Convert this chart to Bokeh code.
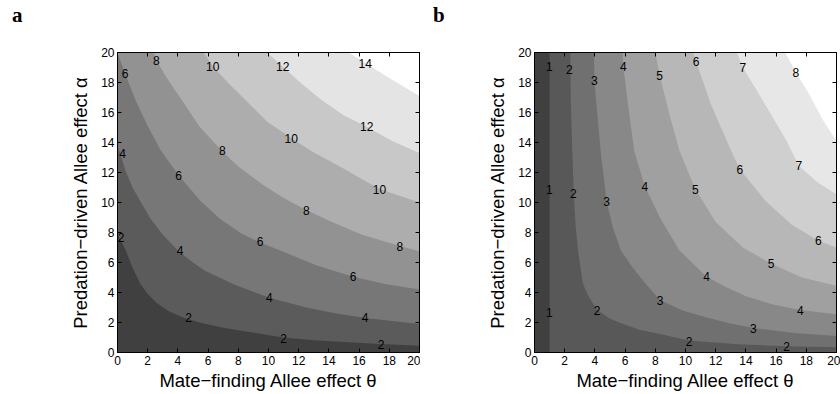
from bokeh.plotting import figure
from bokeh.models import LinearAxis, FixedTicker, Range1d, Div
from bokeh.layouts import row, column
from bokeh.embed import file_html
from bokeh.resources import INLINE
from bokeh.core.properties import value

# ---------------- data ----------------
theta_ticks = [0, 2, 4, 6, 8, 10, 12, 14, 16, 18, 20]
alpha_ticks = [0, 2, 4, 6, 8, 10, 12, 14, 16, 18, 20]

x_label = "Mate\u2212finding Allee effect \u03b8"
y_label = "Predation\u2212driven Allee effect \u03b1"

# panel a: contour lines (theta, alpha)
a_levels = [2, 4, 6, 8, 10, 12, 14]
a_c2 = [(0, 7.9), (0.3, 7.3), (0.55, 6.8), (1.0, 5.65), (1.5, 4.6), (2.0, 3.9), (2.6, 3.3),
        (3.4, 2.75), (4.3, 2.35), (5.5, 1.98), (7.0, 1.65), (8.5, 1.4), (11.0, 1.0),
        (13.0, 0.82), (15.3, 0.68), (17.4, 0.56), (20, 0.45)]
a_c4 = [(0, 13.8), (0.2, 13.2), (0.5, 12.2), (1.0, 11.0), (1.5, 10.1), (2.2, 8.9), (3.0, 7.85),
        (4.0, 6.8), (5.0, 6.0), (5.8, 5.45), (7.8, 4.5), (10.0, 3.67), (12.5, 3.0),
        (14.5, 2.6), (16.4, 2.3), (20, 1.9)]
a_c6 = [(0, 20), (0.5, 18.6), (1.2, 16.8), (2.0, 15.1), (2.85, 13.5), (4.06, 11.8), (5.5, 10.1),
        (6.8, 8.9), (8.26, 7.9), (9.4, 7.35), (10.9, 6.75), (13.2, 5.8), (15.6, 5.05),
        (17.8, 4.55), (20, 4.2)]
a_c8 = [(2.4, 20), (2.57, 19.5), (3.2, 18.4), (4.28, 16.8), (5.4, 15.1), (6.9, 13.45),
        (8.0, 12.4), (9.6, 11.2), (11.0, 10.3), (12.5, 9.5), (14.2, 8.7), (16.2, 7.85),
        (18.7, 7.1), (20, 6.75)]
a_c10 = [(5.7, 20), (6.3, 19.1), (7.3, 18.0), (8.5, 16.8), (9.9, 15.4), (11.5, 14.3),
         (12.8, 13.45), (14.9, 12.3), (17.35, 10.9), (20, 10.0)]
a_c12 = [(9.9, 20), (10.9, 19.1), (12.1, 18.0), (13.55, 16.8), (15.0, 15.8), (16.5, 15.05),
         (18.2, 14.1), (20, 13.3)]
a_c14 = [(15.3, 20), (16.4, 19.3), (17.75, 18.45), (19.0, 17.7), (20, 17.1)]
a_contours = [a_c2, a_c4, a_c6, a_c8, a_c10, a_c12, a_c14]

a_lab_theta = [0.23, 0.34, 0.5, 2.57, 6.3, 10.94, 16.4, 16.5, 11.5, 6.94, 4.05, 17.35, 12.5,
               9.44, 4.14, 18.7, 15.6, 10.05, 4.7, 16.4, 11.0, 17.45]
a_lab_alpha = [7.7, 13.3, 18.6, 19.5, 19.1, 19.1, 19.3, 15.05, 14.3, 13.5, 11.8, 10.9, 9.5,
               7.4, 6.78, 7.1, 5.05, 3.67, 2.33, 2.33, 0.96, 0.56]
a_lab_text = ["2", "4", "6", "8", "10", "12", "14", "12", "10", "8", "6", "10", "8",
              "6", "4", "8", "6", "4", "2", "4", "2", "2"]

# panel b
b_levels = [1, 2, 3, 4, 5, 6, 7, 8]
b_c1 = [(1, 20), (1, 0)]
b_c2 = [(2.37, 20), (2.4, 17), (2.5, 13.5), (2.6, 10.6), (2.72, 8.5), (2.88, 6.8), (3.2, 4.6),
        (3.5, 3.9), (3.76, 3.45), (4.14, 2.85), (5.0, 2.25), (5.86, 1.9), (7.0, 1.5),
        (8.3, 1.23), (10.2, 0.8), (13.5, 0.55), (16.7, 0.42), (20, 0.35)]
b_c3 = [(3.95, 20), (3.96, 18.2), (4.15, 16), (4.38, 13.45), (4.78, 10.05), (5.2, 8.3),
        (5.73, 6.78), (6.5, 5.67), (7.3, 4.65), (8.31, 3.5), (9.8, 2.8), (11.4, 2.33),
        (12.9, 1.95), (14.5, 1.63), (17.2, 1.3), (20, 1.1)]
b_c4 = [(5.83, 20), (5.88, 19.1), (6.2, 16.5), (6.6, 13.45), (7.3, 11.1), (8.3, 9.0),
        (9.6, 6.8), (11.4, 5.05), (12.6, 4.4), (14.0, 3.75), (15.8, 3.2), (17.6, 2.83),
        (20, 2.55)]
b_c5 = [(8.0, 20), (8.29, 18.5), (8.9, 16), (9.6, 13.45), (10.65, 10.9), (12.0, 8.7),
        (13.8, 7.0), (15.66, 5.93), (17.7, 5.0), (20, 4.45)]
b_c6 = [(10.5, 20), (10.7, 19.4), (11.7, 16.5), (13.0, 13.5), (13.6, 12.2), (15.3, 10.1),
        (17.0, 8.55), (18.8, 7.45), (20, 7.0)]
b_c7 = [(13.4, 20), (13.8, 19.0), (14.7, 17.5), (15.7, 15.8), (16.7, 14.1), (17.5, 12.45),
        (18.8, 11.3), (20, 10.55)]
b_c8 = [(16.6, 20), (17.3, 18.7), (18.2, 17.2), (19.1, 15.5), (20, 14.1)]
b_contours = [b_c1, b_c2, b_c3, b_c4, b_c5, b_c6, b_c7, b_c8]

b_lab_theta = [0.98, 2.3, 3.96, 5.88, 8.29, 10.7, 13.8, 17.3, 17.5, 13.6, 10.65, 7.3, 4.78,
               2.57, 0.98, 18.8, 15.66, 11.4, 8.31, 4.14, 0.98, 17.6, 14.5, 10.23, 16.7]
b_lab_alpha = [19.1, 18.85, 18.15, 19.1, 18.5, 19.4, 19.0, 18.7, 12.45, 12.2, 10.9, 11.1, 10.05,
               10.6, 10.9, 7.45, 5.93, 5.05, 3.5, 2.78, 2.67, 2.83, 1.63, 0.73, 0.38]
b_lab_text = ["1", "2", "3", "4", "5", "6", "7", "8", "7", "6", "5", "4", "3",
              "2", "1", "6", "5", "4", "3", "2", "1", "4", "3", "2", "2"]

# ---------------- styles ----------------
a_colors = ["#404040", "#5b5b5b", "#777777", "#929292", "#adadad", "#c8c8c8", "#e4e4e4", "#ffffff"]
b_colors = ["#404040", "#585858", "#707070", "#888888", "#a0a0a0", "#b7b7b7", "#cfcfcf", "#e7e7e7", "#ffffff"]
SANS = "Liberation Sans"
HEAD_H = 30

lo_x, hi_x = theta_ticks[0], theta_ticks[-1]
lo_y, hi_y = alpha_ticks[0], alpha_ticks[-1]


def superlevel(pts):
    xs = [p[0] for p in pts]
    ys = [p[1] for p in pts]
    end = pts[-1]
    if end[1] == lo_y and end[0] < hi_x:
        xs += [hi_x, hi_x]
        ys += [lo_y, hi_y]
    else:
        xs += [hi_x]
        ys += [hi_y]
    if pts[0][0] == lo_x:
        xs += [lo_x]
        ys += [hi_y]
    return xs, ys


def make_panel(contours, colors, lt, la, ltxt, letter, left, right, letter_x):
    p = figure(x_range=Range1d(lo_x, hi_x), y_range=Range1d(lo_y, hi_y),
               frame_width=302, frame_height=300,
               min_border_left=left, min_border_right=right,
               min_border_top=52 - HEAD_H, min_border_bottom=42,
               toolbar_location=None, output_backend="svg",
               x_axis_label=x_label, y_axis_label=y_label)
    p.background_fill_color = colors[0]
    p.border_fill_color = "white"
    p.grid.visible = False
    p.outline_line_color = "black"
    p.outline_line_width = 1
    p.outline_line_alpha = 1

    xs_all, ys_all = [], []
    for c in contours:
        xs, ys = superlevel(c)
        xs_all.append(xs)
        ys_all.append(ys)
    p.patches(xs_all, ys_all, fill_color=colors[1:], line_color=None)

    p.text(lt, la, text=ltxt, text_font=value(SANS), text_font_size="12px",
           text_align="center", text_baseline="middle", text_color="black")

    for ax, ticks in ((p.xaxis[0], theta_ticks), (p.yaxis[0], alpha_ticks)):
        ax.ticker = FixedTicker(ticks=ticks)
        ax.major_tick_in = 4
        ax.major_tick_out = 0
        ax.minor_tick_line_color = None
        ax.major_label_text_font = SANS
        ax.major_label_text_font_size = "12px"
        ax.major_label_text_color = "black"
        ax.major_label_standoff = 3
        ax.axis_label_text_font = SANS
        ax.axis_label_text_font_size = "18.5px"
        ax.axis_label_text_font_style = "normal"
        ax.axis_label_text_color = "black"
        ax.axis_line_color = "black"
        ax.major_tick_line_color = "black"
    p.xaxis[0].axis_label_standoff = 2
    p.yaxis[0].axis_label_standoff = 7

    for loc, ticks in (("right", alpha_ticks), ("above", theta_ticks)):
        ax = LinearAxis(ticker=FixedTicker(ticks=ticks),
                        major_label_overrides={t: "" for t in ticks},
                        major_label_text_font_size="0px", major_label_standoff=0,
                        major_tick_in=4, major_tick_out=0,
                        minor_tick_line_color=None, axis_line_color="black",
                        major_tick_line_color="black")
        p.add_layout(ax, loc)

    head = Div(text=('<div style="font-family:\'Liberation Serif\';font-size:21px;'
                     'font-weight:bold;color:black;line-height:21px;'
                     'padding:5px 0 0 %dpx;margin:0;">%s</div>' % (letter_x, letter)),
               width=left + 302 + right, height=HEAD_H, margin=0)
    return column(head, p, spacing=0)


pa = make_panel(a_contours, a_colors, a_lab_theta, a_lab_alpha, a_lab_text, "a", 117, 1, 12)
pb = make_panel(b_contours, b_colors, b_lab_theta, b_lab_alpha, b_lab_text, "b", 114, 4, 13)

layout = row(pa, pb, spacing=0)
open("out.html", "w").write(file_html(layout, INLINE))
